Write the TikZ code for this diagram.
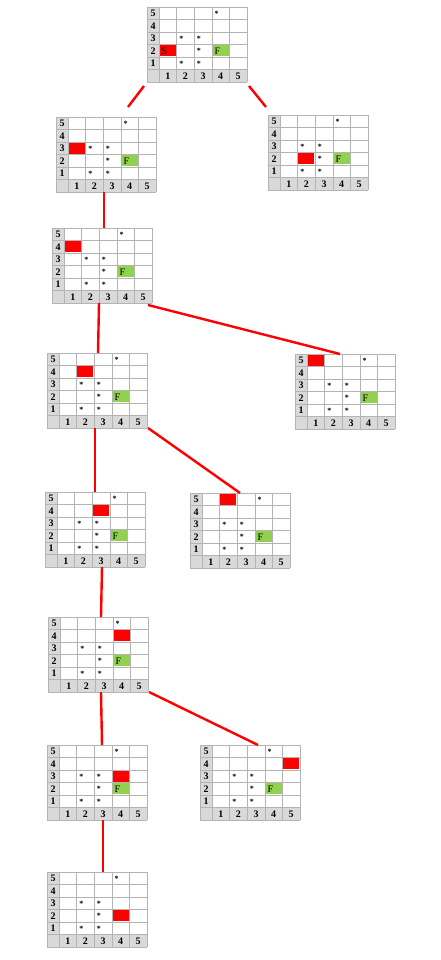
\documentclass[tikz,border=0pt]{standalone}
\usepackage{fontspec}
\setmainfont{Liberation Serif}

\definecolor{cellred}{HTML}{FF0000}
\definecolor{cellgreen}{HTML}{92D050}
\definecolor{headgray}{HTML}{D9D9D9}
\definecolor{linegray}{HTML}{B4B4B4}

\tikzset{
  link/.style={draw=cellred, line width=2.4pt},
  gridframe/.style={inner sep=0pt, minimum width=100pt, minimum height=75pt, anchor=north west},
  lbl/.style={font=\fontsize{10}{10}\selectfont\bfseries, inner sep=0pt},
  celltext/.style={font=\fontsize{10}{10}\selectfont, inner sep=0pt, anchor=west},
  starlbl/.style={font=\fontsize{8}{8}\selectfont\bfseries, inner sep=0pt, anchor=west}
}

% one board: name, top left corner, red column, red row, text in red cell
\newcommand{\stategrid}[5]{%
  \node[gridframe] (#1) at (#2) {};
  \begin{scope}[shift={(#1.north west)}]
    % header column and footer row
    \fill[headgray] (0,0) rectangle (12,75);
    \fill[headgray] (0,62.5) rectangle (100,75);
    % goal cell
    \fill[cellgreen] (65.6,38.3) rectangle (81.6,49.2);
    \node[celltext] (#1-goal) at (67.3,43.9) {F};
    % current cell
    \fill[cellred] ({12+(#3-1)*17.6+0.8},{(5-#4)*12.5+0.8}) rectangle ({12+#3*17.6-0.8},{(6-#4)*12.5-0.8});
    \node[celltext] (#1-now) at ({12+(#3-1)*17.6+2.5},{(5-#4)*12.5+6.4}) {#5};
    % lines
    \foreach \yy in {0,...,6}
      \draw[linegray, line width=0.6pt] (0,{\yy*12.5}) -- (100,{\yy*12.5});
    \draw[linegray, line width=0.6pt] (0,0) -- (0,75);
    \foreach \xx in {0,...,5}
      \draw[linegray, line width=0.6pt] ({12+\xx*17.6},0) -- ({12+\xx*17.6},75);
    % numbers
    \foreach \rr in {1,...,5}
      \node[lbl] (#1-r\rr) at (6,{(5-\rr)*12.5+6.4}) {\rr};
    \foreach \cc in {1,...,5}
      \node[lbl] (#1-c\cc) at ({12+(\cc-0.5)*17.6},68.9) {\cc};
    % walls
    \foreach \cc/\rr in {4/5,2/3,3/3,3/2,2/1,3/1}
      \node[starlbl] (#1-s\cc\rr) at ({12+(\cc-1)*17.6+2.5},{(5-\rr)*12.5+6.4}) {*};
  \end{scope}}

\begin{document}
\begin{tikzpicture}[x=1pt, y=-1pt]
\useasboundingbox (0,0) rectangle (441,960);

% boards
\stategrid{g1}{147,7}{1}{2}{S}
\stategrid{g2}{56,117}{1}{3}{}
\stategrid{g3}{268,115}{2}{2}{}
\stategrid{g4}{52,228}{1}{4}{}
\stategrid{g5}{47,353}{2}{4}{}
\stategrid{g6}{295,354}{1}{5}{}
\stategrid{g7}{45,492}{3}{4}{}
\stategrid{g8}{190,493}{2}{5}{}
\stategrid{g9}{48,617}{4}{4}{}
\stategrid{g10}{47,745}{4}{3}{}
\stategrid{g11}{200,745}{5}{4}{}
\stategrid{g12}{47,872}{4}{2}{}

% links
\draw[link] ([shift={(-3,79)}]g1.north west) -- ([shift={(72,-10)}]g2.north west);
\draw[link] ([shift={(102,79)}]g1.north west) -- ([shift={(-2,-8)}]g3.north west);
\draw[link] ([shift={(48,75)}]g2.north west) -- ([shift={(52,0)}]g4.north west);
\draw[link] ([shift={(47,75)}]g4.north west) -- ([shift={(51,0)}]g5.north west);
\draw[link] ([shift={(96,77)}]g4.north west) -- ([shift={(45,0)}]g6.north west);
\draw[link] ([shift={(48,75)}]g5.north west) -- ([shift={(50,0)}]g7.north west);
\draw[link] ([shift={(101,75)}]g5.north west) -- ([shift={(50,0)}]g8.north west);
\draw[link] ([shift={(57,75)}]g7.north west) -- ([shift={(53,0)}]g9.north west);
\draw[link] ([shift={(53,75)}]g9.north west) -- ([shift={(55,0)}]g10.north west);
\draw[link] ([shift={(101,75)}]g9.north west) -- ([shift={(58,0)}]g11.north west);
\draw[link] ([shift={(56,75)}]g10.north west) -- ([shift={(56,0)}]g12.north west);
\end{tikzpicture}
\end{document}
